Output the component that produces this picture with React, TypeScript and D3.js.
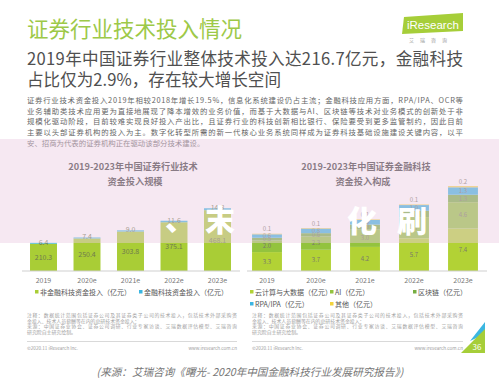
import React from 'react';
import * as d3 from 'd3';

// values
const years = ['2019', '2020e', '2021e', '2022e', '2023e'];
const nonFintech = [210.3, 250.4, 303.8, 375.1, 468.1];
const fintech = [6.4, 7.4, 9.0, 11.6, 14.8];

const cloudBigData = [3.3, 3.7, 4.2, 5.7, 7.4];
const ai = [2.0, 2.3, 3.0, 3.7, 4.6];
const blockchain = [0.5, 0.6, 0.9, 1.1, 1.3];
const rpaIpa = [0.6, 0.8, 0.8, 1.0, 1.3];
const others = [0.1, 0.1, 0.1, 0.1, 0.2];

const rightKeys = ['cloud', 'ai', 'chain', 'rpa', 'other'];
const rightColors = ['#b2d235', '#93c33e', '#76ae41', '#3bb5e2', '#f3d33c'];

const paragraph = [
  '证券行业技术资金投入2019年相较2018年增长19.5%，信息化系统建设仍占主流；金融科技应用方面，RPA/IPA、OCR等',
  '业务辅助类技术应用更为直接地展现了降本增效的业务价值，而基于大数据与AI、区块链等技术对业务模式的创新处于非',
  '规模化驱动阶段，目前较难实现良好投入产出比，且证券行业的科技创新相比银行、保险要受到更多监管制约，因此目前',
  '主要以头部证券机构的投入为主。数字化转型所需的新一代核心业务系统同样成为证券科技基础设施建设关键内容，以平',
  '安、招商为代表的证券机构正在驱动该部分技术建设。',
];

const notes = [
  '注释：数据统计范围包括证券公司及其证券类子公司的技术投入，包括技术外部采购资',
  '金投入、技术人员薪酬等在内的总研技术资金投入；',
  '来源：中国证券业协会、证券公司调研、行业专家访谈、艾瑞数据评估模型、艾瑞咨询',
  '研究院自主研究绘制。',
];

const FONT = '"Noto Sans CJK SC", "Noto Sans", sans-serif';
const baseY = 271;

function Notes({ x, w }: { x: number; w: number }) {
  return (
    <g fontSize={4.9} fill="#a0a0a0">
      {notes.map((t, i) => (
        <text key={i} x={x} y={317 + i * 5.6} textLength={i % 2 === 0 ? w : undefined} lengthAdjust="spacing">
          {t}
        </text>
      ))}
      <line x1={x} x2={x + w} y1={341.5} y2={341.5} stroke="#cfcfcf" strokeWidth={0.8} />
      <text x={x} y={350} fontSize={4.6}>©2020.11 iResearch Inc.</text>
      <text x={x + w} y={350} fontSize={4.6} textAnchor="end">www.iresearch.com.cn</text>
    </g>
  );
}

export default function App() {
  // left chart: total technology investment
  const xL = d3.scaleBand().domain(years).range([21.75, 239.25]).paddingInner(0.38).paddingOuter(0.19);
  const yL = d3.scaleLinear().domain([0, 500]).range([baseY, baseY - 65]);

  // right chart: fintech investment by technology
  const xR = d3.scaleBand().domain(years).range([242.5, 487.5]).paddingInner(0.39).paddingOuter(0.195);
  const yR = d3.scaleLinear().domain([0, 15]).range([baseY, baseY - 86]);

  const rows = years.map((y, i) => ({
    year: y,
    cloud: cloudBigData[i],
    ai: ai[i],
    chain: blockchain[i],
    rpa: rpaIpa[i],
    other: others[i],
  }));
  const stacked = d3.stack<any>().keys(rightKeys)(rows);

  return (
    <svg
      width={499}
      height={385}
      style={{ position: 'absolute', left: 0, top: 0, background: '#fff' }}
      fontFamily={FONT}
    >
      <rect width={499} height={385} fill="#fff" />

      {/* header */}
      <text x={27} y={37} fontSize={21.5} fill="#9dc948">证券行业技术投入情况</text>
      <g>
        <polygon points="404,17 463,13 463,31 402,34" fill="#a6ce39" />
        <text x={407} y={29} fontSize={11.5} fill="#fff" fontFamily="Arial, 'Liberation Sans', sans-serif">iResearch</text>
        <text x={431} y={42} fontSize={5} fill="#999" textAnchor="middle" letterSpacing={6}>艾瑞咨询</text>
      </g>
      <text x={27} y={65} fontSize={16.6} fill="#505050" textLength={436} lengthAdjust="spacing">
        2019年中国证券行业整体技术投入达216.7亿元，金融科技
      </text>
      <text x={27} y={86} fontSize={16.6} fill="#505050">占比仅为2.9%，存在较大增长空间</text>

      <g fontSize={7.4} fill="#666">
        {paragraph.map((t, i) => (
          <text
            key={i}
            x={27}
            y={103 + i * 10.7}
            textLength={i < 4 ? 436 : undefined}
            lengthAdjust="spacing"
          >
            {t}
          </text>
        ))}
      </g>

      {/* chart titles */}
      <g fontSize={9.2} fill="#3a3a3a" fontWeight="bold" textAnchor="middle">
        <text x={133} y={170}>2019-2023年中国证券行业技术</text>
        <text x={135} y={185}>资金投入规模</text>
        <text x={366} y={170}>2019-2023年中国证券金融科技</text>
        <text x={363} y={185}>资金投入构成</text>
      </g>

      {/* left bars */}
      <g>
        {years.map((y, i) => {
          const x0 = xL(y)!;
          const w = xL.bandwidth();
          const top1 = yL(nonFintech[i]);
          const top2 = yL(nonFintech[i] + fintech[i]);
          return (
            <g key={y}>
              <rect x={x0} y={top1} width={w} height={baseY - top1} fill="#a9cd36" />
              <rect x={x0} y={top2} width={w} height={top1 - top2} fill="#3bb6e1" />
              <text x={x0 + w / 2} y={(top1 + baseY) / 2 + 2.5} fontSize={7} fill="#6f7a4e" textAnchor="middle">
                {nonFintech[i].toFixed(1)}
              </text>
              <text x={x0 + w / 2} y={top2 + 2} fontSize={7} fill="#6f7a4e" textAnchor="middle">
                {fintech[i].toFixed(1)}
              </text>
            </g>
          );
        })}
        <line x1={22} x2={240} y1={baseY} y2={baseY} stroke="#cfcfcf" strokeWidth={1} />
        {years.map((y) => (
          <text key={y} x={xL(y)! + xL.bandwidth() / 2} y={283} fontSize={7} fill="#777" textAnchor="middle">
            {y}
          </text>
        ))}
      </g>

      {/* right stacked bars */}
      <g>
        {stacked.map((layer, k) => (
          <g key={layer.key} fill={rightColors[k]}>
            {layer.map((d, i) => {
              const x0 = xR(years[i])!;
              const w = xR.bandwidth();
              const yt = yR(d[1]);
              const yb = yR(d[0]);
              const v = d[1] - d[0];
              const labelY = k === 4 ? yt - 2.5 : (yt + yb) / 2 + 2.1;
              return (
                <g key={i}>
                  <rect x={x0} y={yt} width={w} height={yb - yt} />
                  <text x={x0 + w / 2} y={labelY} fontSize={6.1} fill="#7a7a6a" textAnchor="middle">
                    {v.toFixed(1)}
                  </text>
                </g>
              );
            })}
          </g>
        ))}
        <line x1={247} x2={487} y1={baseY} y2={baseY} stroke="#cfcfcf" strokeWidth={1} />
        {years.map((y) => (
          <text key={y} x={xR(y)! + xR.bandwidth() / 2} y={283} fontSize={7} fill="#777" textAnchor="middle">
            {y}
          </text>
        ))}
      </g>

      {/* legends */}
      <g fontSize={7} fill="#555">
        <rect x={35} y={290} width={3.5} height={3.5} fill="#a9cd36" />
        <text x={40} y={294.5}>非金融科技资金投入（亿元）</text>
        <rect x={139} y={290} width={3.5} height={3.5} fill="#3bb6e1" />
        <text x={144} y={294.5}>金融科技资金投入（亿元）</text>

        <rect x={250} y={290} width={3.5} height={3.5} fill={rightColors[0]} />
        <text x={255} y={294.5}>云计算与大数据（亿元）</text>
        <rect x={330} y={290} width={3.5} height={3.5} fill={rightColors[1]} />
        <text x={335} y={294.5}>AI（亿元）</text>
        <rect x={413} y={290} width={3.5} height={3.5} fill={rightColors[2]} />
        <text x={418} y={294.5}>区块链（亿元）</text>
        <rect x={250} y={302} width={3.5} height={3.5} fill={rightColors[3]} />
        <text x={255} y={306.5}>RPA/IPA（亿元）</text>
        <rect x={330} y={302} width={3.5} height={3.5} fill={rightColors[4]} />
        <text x={335} y={306.5}>其他（亿元）</text>
      </g>

      <Notes x={27} w={210} />
      <Notes x={252} w={211} />

      {/* page number corner */}
      <polygon points="470,341 485,322 485,334" fill="#3bb6e1" />
      <polygon points="461,353 485,329 485,353" fill="#a6ce39" />
      <text x={477} y={350} fontSize={8} fill="#fff" textAnchor="middle">36</text>

      {/* pink watermark band and white glyphs */}
      <rect x={0} y={139} width={499} height={104} fill="rgb(236,205,226)" opacity={0.45} />
      <g fontSize={30} fontWeight={900} fill="#fff">
        <text x={165} y={230}>、</text>
        <text x={205} y={231}>末</text>
        <text x={347} y={232}>化</text>
        <text x={397} y={232}>刷</text>
      </g>

      <text x={250} y={376} fontSize={10.6} fill="#777" fontStyle="italic" textAnchor="middle">
        (来源：艾瑞咨询《曙光- 2020年中国金融科技行业发展研究报告》)
      </text>
    </svg>
  );
}
